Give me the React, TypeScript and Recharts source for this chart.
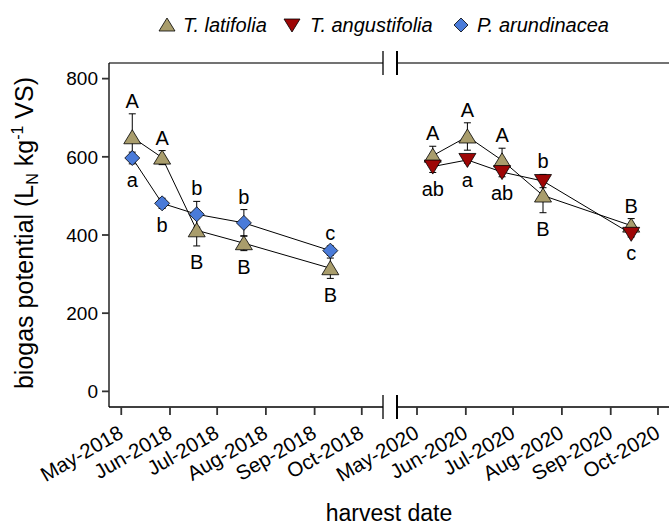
import React from "react";
import { ComposedChart, Scatter, XAxis, YAxis, ErrorBar, ReferenceLine } from "recharts";

// harvest dates and mean biogas potential (L_N per kg VS) with standard errors
const dates2018 = ["2018-05-08", "2018-05-27", "2018-06-18", "2018-07-18", "2018-09-11"];
const latifolia2018 = [650, 598, 412, 379, 315];
const latifolia2018Err = [60, 18, 40, 19, 26];
const latifolia2018Letters = ["A", "A", "B", "B", "B"];
const latifolia2018Side = ["top", "top", "bottom", "bottom", "bottom"];
const arundinacea2018 = [597, 481, 453, 431, 360];
const arundinacea2018Err = [15, 13, 33, 34, 12];
const arundinacea2018Letters = ["a", "b", "b", "b", "c"];
const arundinacea2018Side = ["bottom", "bottom", "top", "top", "top"];

const dates2020 = ["2020-05-11", "2020-06-02", "2020-06-24", "2020-07-20", "2020-09-14"];
const latifolia2020 = [603, 652, 591, 501, 424];
const latifolia2020Err = [24, 35, 31, 44, 18];
const latifolia2020Letters = ["A", "A", "A", "B", "B"];
const latifolia2020Side = ["top", "top", "top", "bottom", "top"];
const angustifolia2020 = [575, 592, 561, 538, 403];
const angustifolia2020Err = [15, 8, 12, 17, 8];
const angustifolia2020Letters = ["ab", "a", "ab", "b", "c"];
const angustifolia2020Side = ["bottom", "bottom", "bottom", "top", "bottom"];

const tickDates2018 = ["2018-05-01", "2018-06-01", "2018-07-01", "2018-08-01", "2018-09-01", "2018-10-01"];
const tickLabels2018 = ["May-2018", "Jun-2018", "Jul-2018", "Aug-2018", "Sep-2018", "Oct-2018"];
const tickDates2020 = ["2020-05-01", "2020-06-01", "2020-07-01", "2020-08-01", "2020-09-01", "2020-10-01"];
const tickLabels2020 = ["May-2020", "Jun-2020", "Jul-2020", "Aug-2020", "Sep-2020", "Oct-2020"];
const yTicks = [0, 200, 400, 600, 800];

const DAY = 86400000;
const ms = (d: string) => Date.parse(d + "T00:00:00Z");

const domain2018 = [ms("2018-05-01") - 7.8 * DAY, ms("2018-05-01") + 166.5 * DAY];
const domain2020 = [ms("2020-05-01") - 12.7 * DAY, ms("2020-05-01") + 160 * DAY];

const FONT = "'Liberation Sans', Arial, Helvetica, sans-serif";
const KHAKI = "#a99d6c";
const DARKRED = "#9e0606";
const BLUE = "#4a7bd9";

const series = (dates: string[], vals: number[], errs: number[]) =>
  dates.map((d, i) => ({ x: ms(d), y: vals[i], err: errs[i] }));

const labels = (dates: string[], vals: number[], errs: number[], letters: string[], sides: string[]) =>
  dates.map((d, i) => ({
    x: ms(d),
    y: sides[i] === "top" ? vals[i] + errs[i] : vals[i] - errs[i],
    text: letters[i],
    side: sides[i],
  }));

const UpTri = (p: any) => (
  <path d={`M${p.cx},${p.cy - 7.5} L${p.cx + 8.5},${p.cy + 6.5} L${p.cx - 8.5},${p.cy + 6.5} Z`} fill={KHAKI} stroke="#000" strokeWidth={0.8} />
);
const DownTri = (p: any) => (
  <path d={`M${p.cx - 8.5},${p.cy - 6.5} L${p.cx + 8.5},${p.cy - 6.5} L${p.cx},${p.cy + 7.5} Z`} fill={DARKRED} stroke="#000" strokeWidth={0.8} />
);
const Diamond = (p: any) => (
  <path d={`M${p.cx},${p.cy - 7.5} L${p.cx + 7.5},${p.cy} L${p.cx},${p.cy + 7.5} L${p.cx - 7.5},${p.cy} Z`} fill={BLUE} stroke="#000" strokeWidth={0.8} />
);
const Empty = () => <g />;

const Letter = (p: any) => {
  const top = p.payload.side === "top";
  return (
    <text x={p.cx} y={top ? p.cy - 6 : p.cy + 23.5} textAnchor="middle" fontSize={20} fill="#000" fontFamily={FONT}>
      {p.payload.text}
    </text>
  );
};

const makeTick = (tickDates: string[], tickLabels: string[]) => (props: any) => {
  const { x, y, payload } = props;
  const idx = tickDates.map(ms).indexOf(payload.value);
  const ax = x - 4;
  const ay = y + 9;
  return (
    <text x={ax} y={ay} dy={14.7} textAnchor="end" fontSize={20.5} fill="#000" fontFamily={FONT} transform={`rotate(-30 ${ax} ${ay})`}>
      {tickLabels[idx]}
    </text>
  );
};

type Group = { data: any[]; shape: any };

function Panel({ width, left, domain, tickDates, tickLabels, groups, labelData, showY }: any) {
  return (
    <ComposedChart width={width} height={526} margin={{ top: 63, right: 0, bottom: 0, left }}>
      <XAxis
        type="number"
        dataKey="x"
        domain={domain}
        allowDataOverflow
        ticks={tickDates.map(ms)}
        interval={0}
        height={119}
        tickSize={8}
        tickMargin={0}
        axisLine={{ stroke: "#000", strokeWidth: 1.3 }}
        tickLine={{ stroke: "#333", strokeWidth: 1.8 }}
        tick={makeTick(tickDates, tickLabels)}
      />
      <YAxis
        type="number"
        dataKey="y"
        domain={[-40, 840]}
        ticks={yTicks}
        hide={!showY}
        width={showY ? 109 : 0}
        tickSize={7}
        tickMargin={4}
        axisLine={{ stroke: "#000", strokeWidth: 1.3 }}
        tickLine={{ stroke: "#333", strokeWidth: 1.8 }}
        tick={{ fontSize: 19, fill: "#000", fontFamily: FONT }}
      />
      <ReferenceLine y={840} stroke="#444" strokeWidth={1.6} />
      {groups.map((g: Group, i: number) => (
        <Scatter key={"l" + i} data={g.data} line={{ stroke: "#000", strokeWidth: 1 }} lineType="joint" shape={Empty} isAnimationActive={false}>
          <ErrorBar dataKey="err" direction="y" width={3.5} stroke="#000" strokeWidth={1} />
        </Scatter>
      ))}
      {groups.map((g: Group, i: number) => (
        <Scatter key={"p" + i} data={g.data} shape={g.shape} isAnimationActive={false} />
      ))}
      <Scatter data={labelData} shape={Letter} isAnimationActive={false} />
    </ComposedChart>
  );
}

export default function App() {
  const groups2018 = [
    { data: series(dates2018, latifolia2018, latifolia2018Err), shape: UpTri },
    { data: series(dates2018, arundinacea2018, arundinacea2018Err), shape: Diamond },
  ];
  const groups2020 = [
    { data: series(dates2020, latifolia2020, latifolia2020Err), shape: UpTri },
    { data: series(dates2020, angustifolia2020, angustifolia2020Err), shape: DownTri },
  ];
  const labels2018 = [
    ...labels(dates2018, latifolia2018, latifolia2018Err, latifolia2018Letters, latifolia2018Side),
    ...labels(dates2018, arundinacea2018, arundinacea2018Err, arundinacea2018Letters, arundinacea2018Side),
  ];
  const labels2020 = [
    ...labels(dates2020, latifolia2020, latifolia2020Err, latifolia2020Letters, latifolia2020Side),
    ...labels(dates2020, angustifolia2020, angustifolia2020Err, angustifolia2020Letters, angustifolia2020Side),
  ];

  return (
    <div style={{ position: "absolute", left: 0, top: 0, width: 669, height: 526, background: "#fff", fontFamily: FONT, overflow: "hidden" }}>
      <div style={{ position: "absolute", left: 0, top: 0 }}>
        <Panel width={383} left={0} domain={domain2018} tickDates={tickDates2018} tickLabels={tickLabels2018} groups={groups2018} labelData={labels2018} showY />
      </div>
      <div style={{ position: "absolute", left: 0, top: 0 }}>
        <Panel width={669} left={397} domain={domain2020} tickDates={tickDates2020} tickLabels={tickLabels2020} groups={groups2020} labelData={labels2020} showY={false} />
      </div>
      <svg width={669} height={526} style={{ position: "absolute", left: 0, top: 0, pointerEvents: "none" }}>
        {/* axis break marks */}
        <line x1={383} x2={383} y1={51} y2={75} stroke="#000" strokeWidth={1.3} />
        <line x1={397} x2={397} y1={51} y2={75} stroke="#000" strokeWidth={2} />
        <line x1={383} x2={383} y1={395} y2={419} stroke="#000" strokeWidth={1.3} />
        <line x1={397} x2={397} y1={395} y2={419} stroke="#000" strokeWidth={2} />
        {/* legend */}
        <path d="M167,18 L175,31 L159,31 Z" fill={KHAKI} stroke="#000" strokeWidth={0.8} />
        <text x={183} y={32} fontSize={20} fontStyle="italic" fontFamily={FONT}>T. latifolia</text>
        <path d="M284,19 L300,19 L292,32 Z" fill={DARKRED} stroke="#000" strokeWidth={0.8} />
        <text x={310} y={32} fontSize={20} fontStyle="italic" fontFamily={FONT}>T. angustifolia</text>
        <path d="M461,18 L468,25 L461,32 L454,25 Z" fill={BLUE} stroke="#000" strokeWidth={0.8} />
        <text x={477} y={32} fontSize={20} fontStyle="italic" fontFamily={FONT}>P. arundinacea</text>
        {/* axis titles */}
        <text x={389} y={521} fontSize={23} textAnchor="middle" fontFamily={FONT}>harvest date</text>
        <text x={33} y={233} fontSize={25} textAnchor="middle" fontFamily={FONT} transform="rotate(-90 33 233)">
          biogas potential (L<tspan fontSize={16} dy={5}>N</tspan>
          <tspan dy={-5}> kg</tspan>
          <tspan fontSize={16} dy={-10}>-1</tspan>
          <tspan dy={10}> VS)</tspan>
        </text>
      </svg>
    </div>
  );
}
